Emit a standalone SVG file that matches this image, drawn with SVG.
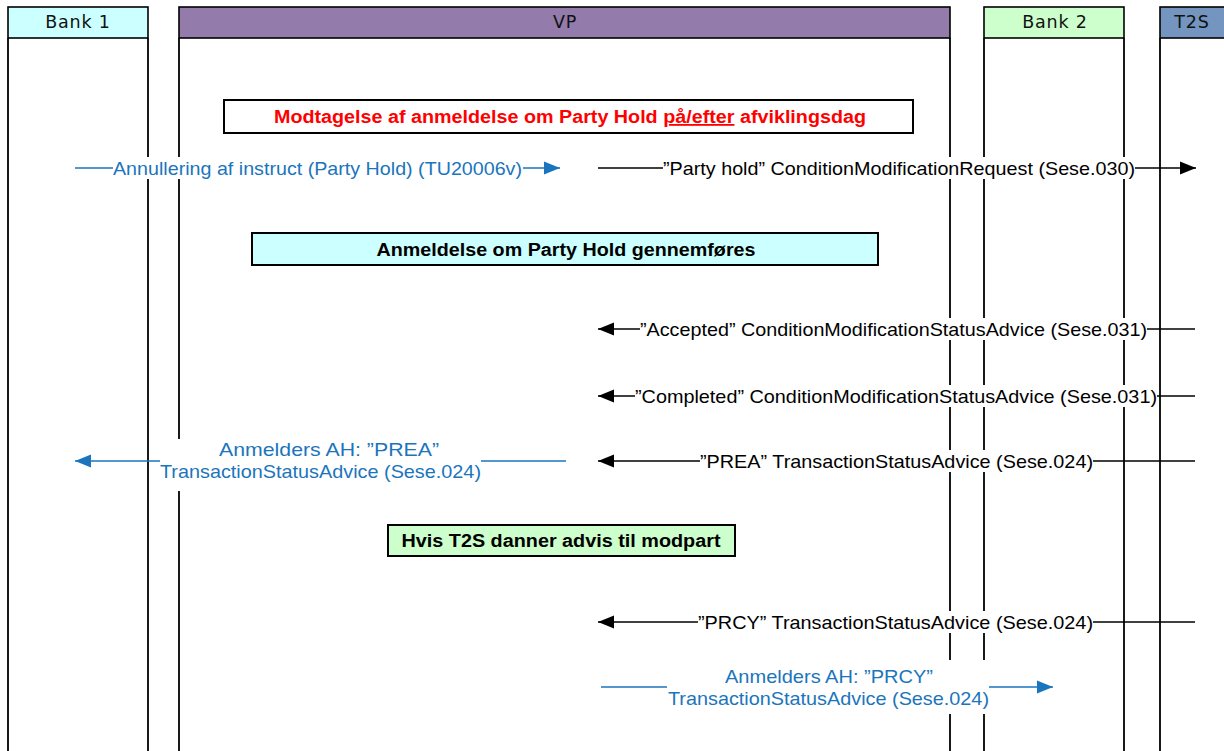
<svg xmlns="http://www.w3.org/2000/svg" width="1224" height="751" viewBox="0 0 1224 751">
<defs>
<style>
.hdr{stroke:#000;stroke-width:1.6}
.life{stroke:#000;stroke-width:1.8;fill:none}
.htxt{font-family:"DejaVu Sans",Verdana,sans-serif;font-size:17.5px;letter-spacing:0.8px;fill:#111;text-anchor:middle}
.note{stroke:#000;stroke-width:2}
.ntxt{font-family:"Liberation Sans",Arial,sans-serif;font-size:18px;font-weight:bold;text-anchor:middle}
.msg{stroke:#000;stroke-width:1.4;fill:none}
.bmsg{stroke:#1b75bc;stroke-width:1.4;fill:none}
.mtxt{font-family:"Liberation Sans",Arial,sans-serif;font-size:19px;fill:#000;text-anchor:middle}
.btxt{font-family:"Liberation Sans",Arial,sans-serif;font-size:19px;fill:#1b75bc;text-anchor:middle}
.bg{fill:#fff}
</style>
<marker id="ah" markerUnits="userSpaceOnUse" markerWidth="17" markerHeight="15" refX="16" refY="7" orient="auto"><path d="M0,0.5 L16,7 L0,13.5 z" fill="#000"/></marker>
<marker id="bh" markerUnits="userSpaceOnUse" markerWidth="17" markerHeight="15" refX="16" refY="7" orient="auto"><path d="M0,0.5 L16,7 L0,13.5 z" fill="#1b75bc"/></marker>
</defs>
<rect width="1224" height="751" fill="#fff"/>

<g id="bank1">
<line class="life" x1="8" y1="38" x2="8" y2="751"/>
<line class="life" x1="148" y1="38" x2="148" y2="751"/>
<rect class="hdr" x="8" y="7" width="140" height="31" fill="#ccffff"/>
<text class="htxt" x="78" y="28">Bank 1</text>
</g>
<g id="vp">
<line class="life" x1="179" y1="38" x2="179" y2="751"/>
<line class="life" x1="950" y1="38" x2="950" y2="751"/>
<rect class="hdr" x="179" y="7" width="771" height="31" fill="#937bab"/>
<text class="htxt" x="565" y="28">VP</text>
</g>
<g id="bank2">
<line class="life" x1="984" y1="38" x2="984" y2="751"/>
<line class="life" x1="1124" y1="38" x2="1124" y2="751"/>
<rect class="hdr" x="984" y="7" width="140" height="31" fill="#ccffcc"/>
<text class="htxt" x="1055" y="28">Bank 2</text>
</g>
<g id="t2s">
<line class="life" x1="1160" y1="38" x2="1160" y2="751"/>
<rect class="hdr" x="1160" y="7" width="100" height="31" fill="#7395bf"/>
<text class="htxt" x="1192" y="28">T2S</text>
</g>

<g id="note-title">
<rect class="note" x="224" y="100" width="689" height="33" fill="#fff"/>
<text class="ntxt" x="570" y="123" fill="#ff0000" textLength="592" lengthAdjust="spacingAndGlyphs">Modtagelse af anmeldelse om Party Hold <tspan style="text-decoration:underline">på/efter</tspan> afviklingsdag</text>
</g>
<g id="note-gennemfoeres">
<rect class="note" x="252" y="233" width="626" height="32" fill="#ccffff"/>
<text class="ntxt" x="566" y="256" fill="#000" textLength="379" lengthAdjust="spacingAndGlyphs">Anmeldelse om Party Hold gennemføres</text>
</g>
<g id="note-modpart">
<rect class="note" x="388" y="525" width="347" height="31" fill="#ccffcc"/>
<text class="ntxt" x="561" y="547" fill="#000" textLength="319" lengthAdjust="spacingAndGlyphs">Hvis T2S danner advis til modpart</text>
</g>

<g id="connectors">
<g id="m1">
<line class="bmsg" x1="75" y1="168" x2="560" y2="168" marker-end="url(#bh)"/>
<rect class="bg" x="113" y="157" width="410" height="22"/>
<text class="btxt" x="317.5" y="175" textLength="409" lengthAdjust="spacingAndGlyphs">Annullering af instruct (Party Hold) (TU20006v)</text>
</g>
<g id="m2">
<line class="msg" x1="598" y1="168" x2="1196" y2="168" marker-end="url(#ah)"/>
<rect class="bg" x="663" y="157" width="472" height="22"/>
<text class="mtxt" x="899" y="175" textLength="472" lengthAdjust="spacingAndGlyphs">”Party hold” ConditionModificationRequest (Sese.030)</text>
</g>
<g id="m3">
<line class="msg" x1="1195" y1="329" x2="598" y2="329" marker-end="url(#ah)"/>
<rect class="bg" x="640" y="318" width="507" height="22"/>
<text class="mtxt" x="893.5" y="336" textLength="507" lengthAdjust="spacingAndGlyphs">”Accepted” ConditionModificationStatusAdvice (Sese.031)</text>
</g>
<g id="m4">
<line class="msg" x1="1195" y1="396" x2="598" y2="396" marker-end="url(#ah)"/>
<rect class="bg" x="635" y="385" width="522" height="22"/>
<text class="mtxt" x="896" y="403" textLength="522" lengthAdjust="spacingAndGlyphs">”Completed” ConditionModificationStatusAdvice (Sese.031)</text>
</g>
<g id="m5">
<line class="msg" x1="1195" y1="461" x2="598" y2="461" marker-end="url(#ah)"/>
<rect class="bg" x="700" y="450" width="393" height="22"/>
<text class="mtxt" x="896.5" y="468" textLength="393" lengthAdjust="spacingAndGlyphs">”PREA” TransactionStatusAdvice (Sese.024)</text>
</g>
<g id="m6">
<line class="bmsg" x1="566" y1="461" x2="75" y2="461" marker-end="url(#bh)"/>
<rect class="bg" x="160" y="439" width="321" height="52"/>
<text class="btxt" x="329" y="456" textLength="220" lengthAdjust="spacingAndGlyphs">Anmelders AH: ”PREA”</text>
<text class="btxt" x="320.5" y="478" textLength="321" lengthAdjust="spacingAndGlyphs">TransactionStatusAdvice (Sese.024)</text>
</g>
<g id="m7">
<line class="msg" x1="1195" y1="622" x2="598" y2="622" marker-end="url(#ah)"/>
<rect class="bg" x="698" y="611" width="395" height="22"/>
<text class="mtxt" x="895.5" y="629" textLength="395" lengthAdjust="spacingAndGlyphs">”PRCY” TransactionStatusAdvice (Sese.024)</text>
</g>
<g id="m8">
<line class="bmsg" x1="601" y1="687" x2="1053" y2="687" marker-end="url(#bh)"/>
<rect class="bg" x="667" y="660" width="322" height="54"/>
<text class="btxt" x="829" y="683" textLength="208" lengthAdjust="spacingAndGlyphs">Anmelders AH: ”PRCY”</text>
<text class="btxt" x="828.5" y="705" textLength="321" lengthAdjust="spacingAndGlyphs">TransactionStatusAdvice (Sese.024)</text>
</g>
</g>
</svg>
